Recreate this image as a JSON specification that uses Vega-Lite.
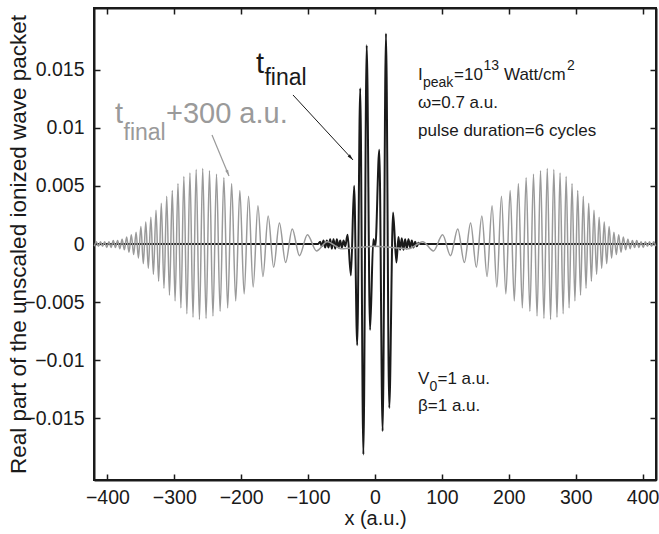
{
"$schema": "https://vega.github.io/schema/vega-lite/v6.json",
"width": 562, "height": 472,
"autosize": {"type": "none"},
"padding": {"left": 94, "top": 8, "right": 3, "bottom": 54},
"background": "white",
"config": {"view": {"stroke": "#1a1a1a", "strokeWidth": 2}, "font": "Liberation Sans, Arial, sans-serif"},
"datasets": {
"black": [
{"x":-420,"y":0},{"x":-85,"y":0},{"x":-82,"y":0.0002},{"x":-79.5,"y":-0.0002},{"x":-77,"y":0.0003},{"x":-74.5,"y":-0.0003},{"x":-72,"y":0.0003},{"x":-69.5,"y":-0.0003},{"x":-67,"y":0.0004},{"x":-64.5,"y":-0.0004},{"x":-62,"y":0.0004},{"x":-59.5,"y":-0.0004},{"x":-57,"y":0.0004},{"x":-54.5,"y":-0.0003},{"x":-52,"y":0.0003},{"x":-49.5,"y":-0.0003},{"x":-47,"y":0.0003},{"x":-44.5,"y":-0.0002},{"x":-41,"y":0.0008},{"x":-36,"y":-0.0027},{"x":-31.2,"y":0.005},{"x":-26.6,"y":-0.0087},{"x":-22.1,"y":0.0134},{"x":-17.4,"y":-0.0181},{"x":-12.4,"y":0.0171},{"x":-7.4,"y":-0.0074},{"x":-2.5,"y":0.0004},{"x":0.5,"y":-0.0002},{"x":6.4,"y":0.0081},{"x":11.4,"y":-0.0161},{"x":16.4,"y":0.0181},{"x":21.3,"y":-0.0141},{"x":27,"y":0.0027},{"x":32,"y":-0.0016},{"x":35,"y":0.0006},{"x":37.5,"y":-0.0005},{"x":40,"y":0.0005},{"x":42.5,"y":-0.0005},{"x":45,"y":0.0004},{"x":47.5,"y":-0.0004},{"x":50,"y":0.0004},{"x":52.5,"y":-0.0003},{"x":55,"y":0.0003},{"x":57.5,"y":-0.0003},{"x":60,"y":0.0002},{"x":62.5,"y":-0.0002},{"x":65,"y":0.0001},{"x":68,"y":0},{"x":420,"y":0}
],
"grey": [
{"x":-419.5,"y":-0.0002},{"x":-416.5,"y":0.0002},{"x":-413.4,"y":-0.0002},{"x":-410.3,"y":0.0002},{"x":-407.2,"y":-0.0002},{"x":-404.1,"y":0.0002},{"x":-400.9,"y":-0.0003},{"x":-397.7,"y":0.0002},{"x":-394.5,"y":-0.0003},{"x":-391.2,"y":0.0003},{"x":-388,"y":-0.0003},{"x":-384.7,"y":0.0003},{"x":-381.3,"y":-0.0004},{"x":-378,"y":0.0004},{"x":-374.6,"y":-0.0005},{"x":-371.2,"y":0.0006},{"x":-367.7,"y":-0.0007},{"x":-364.2,"y":0.0008},{"x":-360.7,"y":-0.0009},{"x":-357.1,"y":0.001},{"x":-353.6,"y":-0.0012},{"x":-349.9,"y":0.0015},{"x":-346.3,"y":-0.0017},{"x":-342.6,"y":0.0019},{"x":-338.8,"y":-0.0021},{"x":-335,"y":0.0023},{"x":-331.2,"y":-0.0026},{"x":-327.3,"y":0.0029},{"x":-323.4,"y":-0.0032},{"x":-319.4,"y":0.0035},{"x":-315.4,"y":-0.0038},{"x":-311.3,"y":0.0041},{"x":-307.2,"y":-0.0044},{"x":-303,"y":0.0046},{"x":-298.8,"y":-0.0049},{"x":-294.5,"y":0.0052},{"x":-290.1,"y":-0.0055},{"x":-285.7,"y":0.0058},{"x":-281.2,"y":-0.006},{"x":-276.6,"y":0.0061},{"x":-272,"y":-0.0063},{"x":-267.3,"y":0.0064},{"x":-262.4,"y":-0.0065},{"x":-257.5,"y":0.0065},{"x":-252.5,"y":-0.0064},{"x":-247.4,"y":0.0063},{"x":-242.2,"y":-0.0062},{"x":-236.9,"y":0.006},{"x":-231.5,"y":-0.0058},{"x":-225.9,"y":0.0057},{"x":-220.2,"y":-0.0055},{"x":-214.3,"y":0.0052},{"x":-208.2,"y":-0.0049},{"x":-202,"y":0.0046},{"x":-195.6,"y":-0.0043},{"x":-189,"y":0.0041},{"x":-182.1,"y":-0.0037},{"x":-175,"y":0.0033},{"x":-167.5,"y":-0.0028},{"x":-159.7,"y":0.0024},{"x":-151.5,"y":-0.002},{"x":-142.9,"y":0.0018},{"x":-133.6,"y":-0.0016},{"x":-123.7,"y":0.0013},{"x":-112.9,"y":-0.001},{"x":-101,"y":0.0008},{"x":-87.5,"y":-0.0006},
{"x":-71.4,"y":0.0002},{"x":-50.5,"y":-0.0004},{"x":-25,"y":-0.0003},{"x":0,"y":-0.0002},{"x":25,"y":-0.0003},{"x":50.5,"y":-0.0004},{"x":71.4,"y":0.0002},
{"x":87.5,"y":-0.0006},{"x":101,"y":0.0008},{"x":112.9,"y":-0.001},{"x":123.7,"y":0.0013},{"x":133.6,"y":-0.0016},{"x":142.9,"y":0.0018},{"x":151.5,"y":-0.002},{"x":159.7,"y":0.0024},{"x":167.5,"y":-0.0028},{"x":175,"y":0.0033},{"x":182.1,"y":-0.0037},{"x":189,"y":0.0041},{"x":195.6,"y":-0.0043},{"x":202,"y":0.0046},{"x":208.2,"y":-0.0049},{"x":214.3,"y":0.0052},{"x":220.2,"y":-0.0055},{"x":225.9,"y":0.0057},{"x":231.5,"y":-0.0058},{"x":236.9,"y":0.006},{"x":242.2,"y":-0.0062},{"x":247.4,"y":0.0063},{"x":252.5,"y":-0.0064},{"x":257.5,"y":0.0065},{"x":262.4,"y":-0.0065},{"x":267.3,"y":0.0064},{"x":272,"y":-0.0063},{"x":276.6,"y":0.0061},{"x":281.2,"y":-0.006},{"x":285.7,"y":0.0058},{"x":290.1,"y":-0.0055},{"x":294.5,"y":0.0052},{"x":298.8,"y":-0.0049},{"x":303,"y":0.0046},{"x":307.2,"y":-0.0044},{"x":311.3,"y":0.0041},{"x":315.4,"y":-0.0038},{"x":319.4,"y":0.0035},{"x":323.4,"y":-0.0032},{"x":327.3,"y":0.0029},{"x":331.2,"y":-0.0026},{"x":335,"y":0.0023},{"x":338.8,"y":-0.0021},{"x":342.6,"y":0.0019},{"x":346.3,"y":-0.0017},{"x":349.9,"y":0.0015},{"x":353.6,"y":-0.0012},{"x":357.1,"y":0.001},{"x":360.7,"y":-0.0009},{"x":364.2,"y":0.0008},{"x":367.7,"y":-0.0007},{"x":371.2,"y":0.0006},{"x":374.6,"y":-0.0005},{"x":378,"y":0.0004},{"x":381.3,"y":-0.0004},{"x":384.7,"y":0.0003},{"x":388,"y":-0.0003},{"x":391.2,"y":0.0003},{"x":394.5,"y":-0.0003},{"x":397.7,"y":0.0002},{"x":400.9,"y":-0.0003},{"x":404.1,"y":0.0002},{"x":407.2,"y":-0.0002},{"x":410.3,"y":0.0002},{"x":413.4,"y":-0.0002},{"x":416.5,"y":0.0002},{"x":419.5,"y":-0.0002}
],
"bigBlack": [{"x":-177.9,"y":0.01471,"t":"t"}],
"subBlack": [{"x":-165.2,"y":0.01368,"t":"final"}],
"bigGrey": [{"x":-388.6,"y":0.01041,"t":"t"},{"x":-312.4,"y":0.01041,"t":"+300 a.u."}],
"subGrey": [{"x":-375.9,"y":0.00895,"t":"final"}],
"arrowBlack": [{"x":-122.6,"y":0.01282,"x2":-32.9,"y2":0.00723}],
"arrowGrey": [{"x":-243.6,"y":0.00938,"x2":-218.2,"y2":0.00585}],
"note": [{"x":64.3,"y":0.01411,"t":"I"},{"x":118.1,"y":0.01411,"t":"=10"},{"x":192.8,"y":0.01411,"t":"Watt/cm"},{"x":64.3,"y":0.0117,"t":"ω=0.7 a.u."},{"x":64.3,"y":0.00929,"t":"pulse duration=6 cycles"},{"x":64.3,"y":-0.01204,"t":"V"},{"x":93.4,"y":-0.01204,"t":"=1 a.u."},{"x":64.3,"y":-0.01436,"t":"β=1 a.u."}],
"noteSmall": [{"x":71.7,"y":0.0135,"t":"peak"},{"x":162.2,"y":0.01497,"t":"13"},{"x":287,"y":0.01497,"t":"2"},{"x":81.5,"y":-0.01264,"t":"0"}]
},
"layer": [
{"data": {"name": "black"},
 "mark": {"type": "line", "color": "#1a1a1a", "strokeWidth": 2, "interpolate": "monotone"},
 "encoding": {
  "x": {"field": "x", "type": "quantitative", "scale": {"domain": [-420, 420], "nice": false, "zero": false},
   "axis": {"orient": "bottom", "values": [-400,-300,-200,-100,0,100,200,300,400], "format": "d", "title": "x (a.u.)", "grid": false, "tickSize": -6, "tickWidth": 1.5, "tickColor": "#1a1a1a", "domainColor": "#1a1a1a", "domainWidth": 2, "labelPadding": 14, "labelFontSize": 19.5, "labelColor": "#1a1a1a", "titleFontSize": 20, "titleFontWeight": "normal", "titleColor": "#1a1a1a", "titlePadding": 2}},
  "y": {"field": "y", "type": "quantitative", "scale": {"domain": [-0.0203, 0.0203], "nice": false, "zero": false},
   "axis": {"orient": "left", "values": [-0.015,-0.01,-0.005,0,0.005,0.01,0.015], "format": "~g", "title": "Real part of the unscaled ionized wave packet", "grid": false, "tickSize": -6, "tickWidth": 1.5, "tickColor": "#1a1a1a", "domainColor": "#1a1a1a", "domainWidth": 2, "labelPadding": 16, "labelFontSize": 19.5, "labelColor": "#1a1a1a", "titleFontSize": 22.5, "titleFontWeight": "normal", "titleColor": "#1a1a1a", "titleX": -76, "titleY": 236, "titleAngle": -90, "titleAlign": "center", "titleBaseline": "middle"}}
 }},
{"data": {"name": "grey"},
 "mark": {"type": "line", "color": "#9a9a9a", "strokeWidth": 1.5, "interpolate": "monotone"},
 "encoding": {
  "x": {"field": "x", "type": "quantitative", "scale": {"domain": [-420, 420], "nice": false, "zero": false},
   "axis": {"orient": "top", "values": [-400,-300,-200,-100,0,100,200,300,400], "labels": false, "title": null, "grid": false, "tickSize": -6, "tickWidth": 1.5, "tickColor": "#1a1a1a", "domainColor": "#1a1a1a", "domainWidth": 2}},
  "y": {"field": "y", "type": "quantitative", "scale": {"domain": [-0.0203, 0.0203], "nice": false, "zero": false},
   "axis": {"orient": "right", "values": [-0.015,-0.01,-0.005,0,0.005,0.01,0.015], "labels": false, "title": null, "grid": false, "tickSize": -6, "tickWidth": 1.5, "tickColor": "#1a1a1a", "domainColor": "#1a1a1a", "domainWidth": 2}}
 }},
{"data": {"name": "arrowBlack"},
 "mark": {"type": "rule", "color": "#1a1a1a", "strokeWidth": 1},
 "encoding": {"x": {"field": "x", "type": "quantitative", "scale": {"domain": [-420, 420], "nice": false, "zero": false}, "axis": null}, "y": {"field": "y", "type": "quantitative", "scale": {"domain": [-0.0203, 0.0203], "nice": false, "zero": false}, "axis": null}, "x2": {"field": "x2"}, "y2": {"field": "y2"}}},
{"data": {"name": "arrowBlack"},
 "mark": {"type": "point", "shape": "M0,0L0.4,1.6L-0.4,1.6Z", "filled": true, "color": "#1a1a1a", "opacity": 1, "size": 60, "angle": 137.3},
 "encoding": {"x": {"field": "x2", "type": "quantitative", "scale": {"domain": [-420, 420], "nice": false, "zero": false}, "axis": null}, "y": {"field": "y2", "type": "quantitative", "scale": {"domain": [-0.0203, 0.0203], "nice": false, "zero": false}, "axis": null}}},
{"data": {"name": "arrowGrey"},
 "mark": {"type": "rule", "color": "#9a9a9a", "strokeWidth": 1.2},
 "encoding": {"x": {"field": "x", "type": "quantitative", "scale": {"domain": [-420, 420], "nice": false, "zero": false}, "axis": null}, "y": {"field": "y", "type": "quantitative", "scale": {"domain": [-0.0203, 0.0203], "nice": false, "zero": false}, "axis": null}, "x2": {"field": "x2"}, "y2": {"field": "y2"}}},
{"data": {"name": "arrowGrey"},
 "mark": {"type": "point", "shape": "M0,0L0.4,1.6L-0.4,1.6Z", "filled": true, "color": "#9a9a9a", "opacity": 1, "size": 60, "angle": 157.5},
 "encoding": {"x": {"field": "x2", "type": "quantitative", "scale": {"domain": [-420, 420], "nice": false, "zero": false}, "axis": null}, "y": {"field": "y2", "type": "quantitative", "scale": {"domain": [-0.0203, 0.0203], "nice": false, "zero": false}, "axis": null}}},
{"data": {"name": "bigBlack"},
 "mark": {"type": "text", "align": "left", "baseline": "alphabetic", "fontSize": 29, "color": "#1a1a1a"},
 "encoding": {"x": {"field": "x", "type": "quantitative", "scale": {"domain": [-420, 420], "nice": false, "zero": false}, "axis": null}, "y": {"field": "y", "type": "quantitative", "scale": {"domain": [-0.0203, 0.0203], "nice": false, "zero": false}, "axis": null}, "text": {"field": "t"}}},
{"data": {"name": "subBlack"},
 "mark": {"type": "text", "align": "left", "baseline": "alphabetic", "fontSize": 23, "color": "#1a1a1a"},
 "encoding": {"x": {"field": "x", "type": "quantitative", "scale": {"domain": [-420, 420], "nice": false, "zero": false}, "axis": null}, "y": {"field": "y", "type": "quantitative", "scale": {"domain": [-0.0203, 0.0203], "nice": false, "zero": false}, "axis": null}, "text": {"field": "t"}}},
{"data": {"name": "bigGrey"},
 "mark": {"type": "text", "align": "left", "baseline": "alphabetic", "fontSize": 29, "color": "#9a9a9a"},
 "encoding": {"x": {"field": "x", "type": "quantitative", "scale": {"domain": [-420, 420], "nice": false, "zero": false}, "axis": null}, "y": {"field": "y", "type": "quantitative", "scale": {"domain": [-0.0203, 0.0203], "nice": false, "zero": false}, "axis": null}, "text": {"field": "t"}}},
{"data": {"name": "subGrey"},
 "mark": {"type": "text", "align": "left", "baseline": "alphabetic", "fontSize": 23, "color": "#9a9a9a"},
 "encoding": {"x": {"field": "x", "type": "quantitative", "scale": {"domain": [-420, 420], "nice": false, "zero": false}, "axis": null}, "y": {"field": "y", "type": "quantitative", "scale": {"domain": [-0.0203, 0.0203], "nice": false, "zero": false}, "axis": null}, "text": {"field": "t"}}},
{"data": {"name": "note"},
 "mark": {"type": "text", "align": "left", "baseline": "alphabetic", "fontSize": 17, "color": "#1a1a1a"},
 "encoding": {"x": {"field": "x", "type": "quantitative", "scale": {"domain": [-420, 420], "nice": false, "zero": false}, "axis": null}, "y": {"field": "y", "type": "quantitative", "scale": {"domain": [-0.0203, 0.0203], "nice": false, "zero": false}, "axis": null}, "text": {"field": "t"}}},
{"data": {"name": "noteSmall"},
 "mark": {"type": "text", "align": "left", "baseline": "alphabetic", "fontSize": 14, "color": "#1a1a1a"},
 "encoding": {"x": {"field": "x", "type": "quantitative", "scale": {"domain": [-420, 420], "nice": false, "zero": false}, "axis": null}, "y": {"field": "y", "type": "quantitative", "scale": {"domain": [-0.0203, 0.0203], "nice": false, "zero": false}, "axis": null}, "text": {"field": "t"}}}
],
"resolve": {"axis": {"x": "independent", "y": "independent"}}
}
